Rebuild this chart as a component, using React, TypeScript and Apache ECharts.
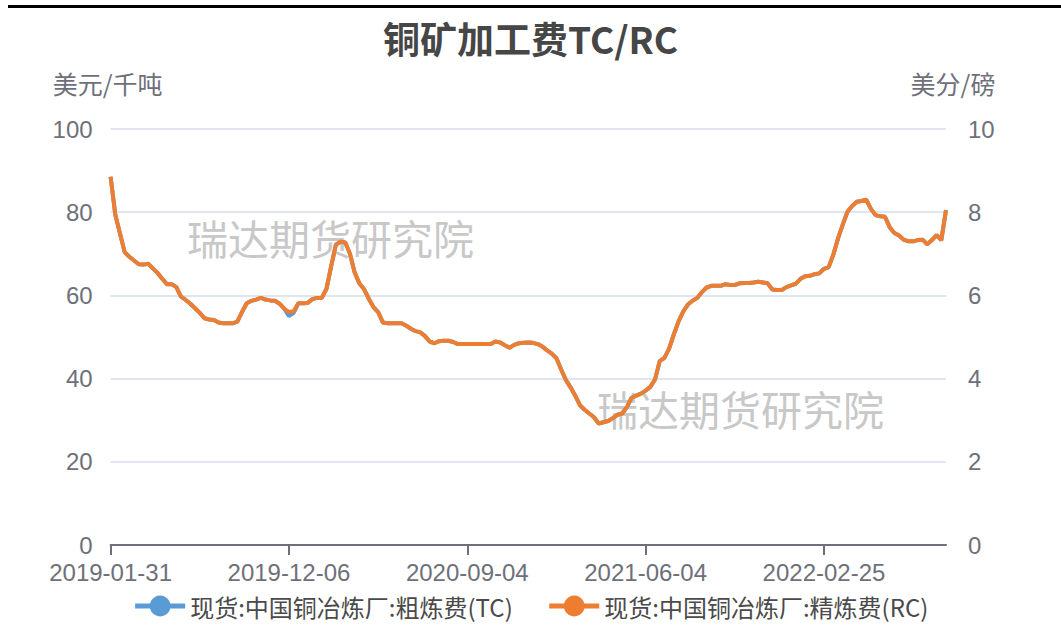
import React, { useEffect, useRef } from "react";
import * as echarts from "echarts";

const FONT = "'Microsoft YaHei', 'Noto Sans CJK SC', 'Noto Sans', sans-serif";
const NUM_FONT = "'Segoe UI', 'Liberation Sans', Arial, sans-serif";

const dates = [
  "2019-01-31",
  "2019-02-15", "2019-02-22", "2019-03-01", "2019-03-08", "2019-03-15", "2019-03-22", "2019-03-29",
  "2019-04-12", "2019-04-19", "2019-04-26", "2019-05-10", "2019-05-17", "2019-05-24", "2019-05-31",
  "2019-06-14", "2019-06-21", "2019-06-28", "2019-07-05", "2019-07-12", "2019-07-19", "2019-07-26",
  "2019-08-02", "2019-08-09", "2019-08-16", "2019-08-23", "2019-08-30", "2019-09-06", "2019-09-20",
  "2019-09-27", "2019-10-11", "2019-10-18", "2019-10-25", "2019-11-01", "2019-11-08", "2019-11-15",
  "2019-11-22", "2019-11-29", "2019-12-06",
  "2019-12-13", "2019-12-20", "2019-12-27", "2020-01-03", "2020-01-10", "2020-01-17", "2020-01-24",
  "2020-02-07", "2020-02-14", "2020-02-21", "2020-02-28", "2020-03-06", "2020-03-13", "2020-03-20",
  "2020-03-27", "2020-04-03", "2020-04-10", "2020-04-17", "2020-04-24", "2020-05-01", "2020-05-08",
  "2020-05-15", "2020-05-22", "2020-05-29", "2020-06-05", "2020-06-12", "2020-06-19", "2020-06-26",
  "2020-07-03", "2020-07-10", "2020-07-17", "2020-07-24", "2020-07-31", "2020-08-07", "2020-08-14",
  "2020-08-21", "2020-08-28", "2020-09-04",
  "2020-09-11", "2020-09-18", "2020-09-25", "2020-10-09", "2020-10-16", "2020-10-23", "2020-10-30",
  "2020-11-06", "2020-11-13", "2020-11-20", "2020-11-27", "2020-12-04", "2020-12-11", "2020-12-18",
  "2020-12-25", "2021-01-01", "2021-01-08", "2021-01-15", "2021-01-22", "2021-01-29", "2021-02-05",
  "2021-02-12", "2021-02-19", "2021-02-26", "2021-03-05", "2021-03-12", "2021-03-19", "2021-03-26",
  "2021-04-02", "2021-04-09", "2021-04-16", "2021-04-23", "2021-04-30", "2021-05-07", "2021-05-14",
  "2021-05-21", "2021-05-28", "2021-06-04",
  "2021-06-11", "2021-06-18", "2021-06-25", "2021-07-02", "2021-07-09", "2021-07-16", "2021-07-23",
  "2021-07-30", "2021-08-06", "2021-08-13", "2021-08-20", "2021-08-27", "2021-09-03", "2021-09-10",
  "2021-09-17", "2021-09-24", "2021-10-01", "2021-10-08", "2021-10-15", "2021-10-22", "2021-10-29",
  "2021-11-05", "2021-11-12", "2021-11-19", "2021-11-26", "2021-12-03", "2021-12-10", "2021-12-17",
  "2021-12-24", "2021-12-31", "2022-01-07", "2022-01-14", "2022-01-21", "2022-01-28", "2022-02-04",
  "2022-02-11", "2022-02-18", "2022-02-25",
  "2022-03-04", "2022-03-11", "2022-03-18", "2022-03-25", "2022-04-01", "2022-04-08", "2022-04-15",
  "2022-04-22", "2022-04-29", "2022-05-06", "2022-05-13", "2022-05-20", "2022-05-27", "2022-06-03",
  "2022-06-10", "2022-06-17", "2022-06-24", "2022-07-01", "2022-07-08", "2022-07-15", "2022-07-22",
  "2022-07-29", "2022-08-05", "2022-08-12", "2022-08-19", "2022-08-26",
];

// 现货:中国铜冶炼厂:粗炼费(TC), 美元/千吨
const tcValues = [
  88.5,
  79.4, 74.9, 70.4, 69.3, 68.4, 67.5, 67.4, 67.6, 66.5, 65.4, 64.0, 62.7, 62.7, 62.0,
  59.7, 58.9, 58.0, 56.9, 55.8, 54.5, 54.2, 54.1, 53.5, 53.3, 53.3, 53.3, 53.7, 56.0,
  58.1, 58.7, 59.0, 59.4, 59.0, 58.8, 58.7, 58.0, 56.8, 55.0,
  55.8, 58.1, 58.1, 58.2, 59.1, 59.4, 59.4, 61.6, 67.0, 72.2, 72.9, 72.7, 70.0, 65.5,
  62.9, 61.5, 59.2, 57.2, 56.0, 53.5, 53.3, 53.3, 53.3, 53.3, 52.7, 52.0, 51.4, 51.1,
  50.2, 48.9, 48.5, 49.0, 49.1, 49.1, 48.8, 48.3, 48.3, 48.3,
  48.3, 48.3, 48.3, 48.3, 48.3, 48.9, 48.7, 48.0, 47.4, 48.1, 48.5, 48.6, 48.7, 48.6,
  48.3, 47.7, 46.8, 46.0, 44.9, 42.2, 39.7, 37.9, 35.9, 33.6, 32.5, 31.6, 30.7, 29.2,
  29.5, 29.8, 30.5, 31.3, 31.6, 33.1, 35.4, 35.9, 36.4, 37.1,
  38.0, 39.8, 44.2, 45.0, 47.2, 50.6, 53.7, 56.1, 57.8, 58.7, 59.4, 60.8, 61.9, 62.3,
  62.3, 62.3, 62.7, 62.5, 62.5, 62.9, 63.0, 63.0, 63.1, 63.3, 63.1, 62.9, 61.4, 61.3,
  61.3, 62.0, 62.4, 62.8, 64.0, 64.6, 64.7, 65.1, 65.3, 66.4,
  66.8, 69.8, 73.7, 77.0, 80.1, 81.5, 82.5, 82.7, 83.0, 80.8, 79.3, 79.0, 78.9, 76.4,
  75.0, 74.4, 73.4, 73.0, 73.0, 73.3, 73.4, 72.3, 73.3, 74.5, 73.3, 80.5,
];

// 现货:中国铜冶炼厂:精炼费(RC), 美分/磅
const rcValues = [
  8.85,
  7.94, 7.49, 7.04, 6.93, 6.84, 6.75, 6.74, 6.76, 6.65, 6.54, 6.40, 6.27, 6.27, 6.20,
  5.97, 5.89, 5.80, 5.69, 5.58, 5.45, 5.42, 5.41, 5.35, 5.33, 5.33, 5.33, 5.37, 5.60,
  5.81, 5.87, 5.90, 5.94, 5.90, 5.88, 5.87, 5.80, 5.68, 5.60,
  5.62, 5.81, 5.81, 5.82, 5.91, 5.94, 5.94, 6.16, 6.70, 7.22, 7.29, 7.27, 7.00, 6.55,
  6.29, 6.15, 5.92, 5.72, 5.60, 5.35, 5.33, 5.33, 5.33, 5.33, 5.27, 5.20, 5.14, 5.11,
  5.02, 4.89, 4.85, 4.90, 4.91, 4.91, 4.88, 4.83, 4.83, 4.83,
  4.83, 4.83, 4.83, 4.83, 4.83, 4.89, 4.87, 4.80, 4.74, 4.81, 4.85, 4.86, 4.87, 4.86,
  4.83, 4.77, 4.68, 4.60, 4.49, 4.22, 3.97, 3.79, 3.59, 3.36, 3.25, 3.16, 3.07, 2.92,
  2.95, 2.98, 3.05, 3.13, 3.16, 3.31, 3.54, 3.59, 3.64, 3.71,
  3.80, 3.98, 4.42, 4.50, 4.72, 5.06, 5.37, 5.61, 5.78, 5.87, 5.94, 6.08, 6.19, 6.23,
  6.23, 6.23, 6.27, 6.25, 6.25, 6.29, 6.30, 6.30, 6.31, 6.33, 6.31, 6.29, 6.14, 6.13,
  6.13, 6.20, 6.24, 6.28, 6.40, 6.46, 6.47, 6.51, 6.53, 6.64,
  6.68, 6.98, 7.37, 7.70, 8.01, 8.15, 8.25, 8.27, 8.30, 8.08, 7.93, 7.90, 7.89, 7.64,
  7.50, 7.44, 7.34, 7.30, 7.30, 7.33, 7.34, 7.23, 7.33, 7.45, 7.33, 8.05,
];

const TC_NAME = "现货:中国铜冶炼厂:粗炼费(TC)";
const RC_NAME = "现货:中国铜冶炼厂:精炼费(RC)";
const TC_COLOR = "#5B9BD5";
const RC_COLOR = "#ED7D31";
const LABEL_COLOR = "#6E7079";
const WATERMARK = "瑞达期货研究院";

export default function App() {
  const ref = useRef<HTMLDivElement>(null);

  useEffect(() => {
    document.body.style.margin = "0";
    if (!ref.current) return;
    const chart = echarts.init(ref.current, undefined, { renderer: "svg" });
    chart.setOption({
      animation: false,
      backgroundColor: "#ffffff",
      textStyle: { fontFamily: FONT },
      title: {
        text: "铜矿加工费TC/RC",
        left: "center",
        top: 14,
        textStyle: { fontSize: 37, fontWeight: "bold", color: "#464646", fontFamily: FONT },
      },
      legend: {
        bottom: 14,
        left: "center",
        itemWidth: 50,
        itemHeight: 26,
        itemGap: 34,
        lineStyle: { width: 5 },
        textStyle: { fontSize: 24, color: "#4a4a4a", fontFamily: FONT },
        data: [TC_NAME, RC_NAME],
      },
      grid: { left: 110.6, right: 115, top: 129, bottom: 92 },
      xAxis: {
        type: "category",
        data: dates,
        boundaryGap: false,
        axisLine: { lineStyle: { color: LABEL_COLOR, width: 2 } },
        axisTick: { length: 10, interval: 37, lineStyle: { color: LABEL_COLOR, width: 2 } },
        axisLabel: {
          interval: 37,
          fontSize: 24,
          lineHeight: 22,
          margin: 16,
          color: LABEL_COLOR,
          fontFamily: NUM_FONT,
        },
      },
      yAxis: [
        {
          type: "value",
          name: "美元/千吨",
          min: 0,
          max: 100,
          interval: 20,
          nameGap: 34,
          nameTextStyle: { fontSize: 25, color: LABEL_COLOR, fontFamily: FONT, padding: [0, 6, 0, 0] },
          axisLine: { show: false },
          axisTick: { show: false },
          axisLabel: { fontSize: 24, lineHeight: 20, margin: 18, color: LABEL_COLOR, fontFamily: NUM_FONT },
          splitLine: { lineStyle: { color: "#E0E6F1", width: 2 } },
        },
        {
          type: "value",
          name: "美分/磅",
          position: "right",
          min: 0,
          max: 10,
          interval: 2,
          nameGap: 34,
          nameTextStyle: { fontSize: 25, color: LABEL_COLOR, fontFamily: FONT, padding: [0, 0, 0, 14] },
          axisLine: { show: false },
          axisTick: { show: false },
          axisLabel: { fontSize: 24, lineHeight: 20, margin: 22, color: LABEL_COLOR, fontFamily: NUM_FONT },
          splitLine: { show: false },
        },
      ],
      series: [
        {
          name: TC_NAME,
          type: "line",
          yAxisIndex: 0,
          data: tcValues,
          symbol: "circle",
          showSymbol: false,
          lineStyle: { width: 4, color: TC_COLOR },
          itemStyle: { color: TC_COLOR },
          z: 2,
        },
        {
          name: RC_NAME,
          type: "line",
          yAxisIndex: 1,
          data: rcValues,
          symbol: "circle",
          showSymbol: false,
          lineStyle: { width: 4, color: RC_COLOR },
          itemStyle: { color: RC_COLOR },
          z: 3,
        },
      ],
      graphic: [
        {
          type: "rect",
          shape: { x: 8, y: 5, width: 1053, height: 3 },
          style: { fill: "#000000" },
        },
        {
          type: "text",
          x: 187,
          y: 237,
          z: 0,
          style: {
            text: WATERMARK,
            fontSize: 41,
            fontFamily: FONT,
            fill: "#c8c8c8",
            verticalAlign: "middle",
          },
        },
        {
          type: "text",
          x: 597,
          y: 408,
          z: 0,
          style: {
            text: WATERMARK,
            fontSize: 41,
            fontFamily: FONT,
            fill: "#c8c8c8",
            verticalAlign: "middle",
          },
        },
      ],
    });
    return () => chart.dispose();
  }, []);

  return <div ref={ref} style={{ width: 1061, height: 637 }} />;
}
